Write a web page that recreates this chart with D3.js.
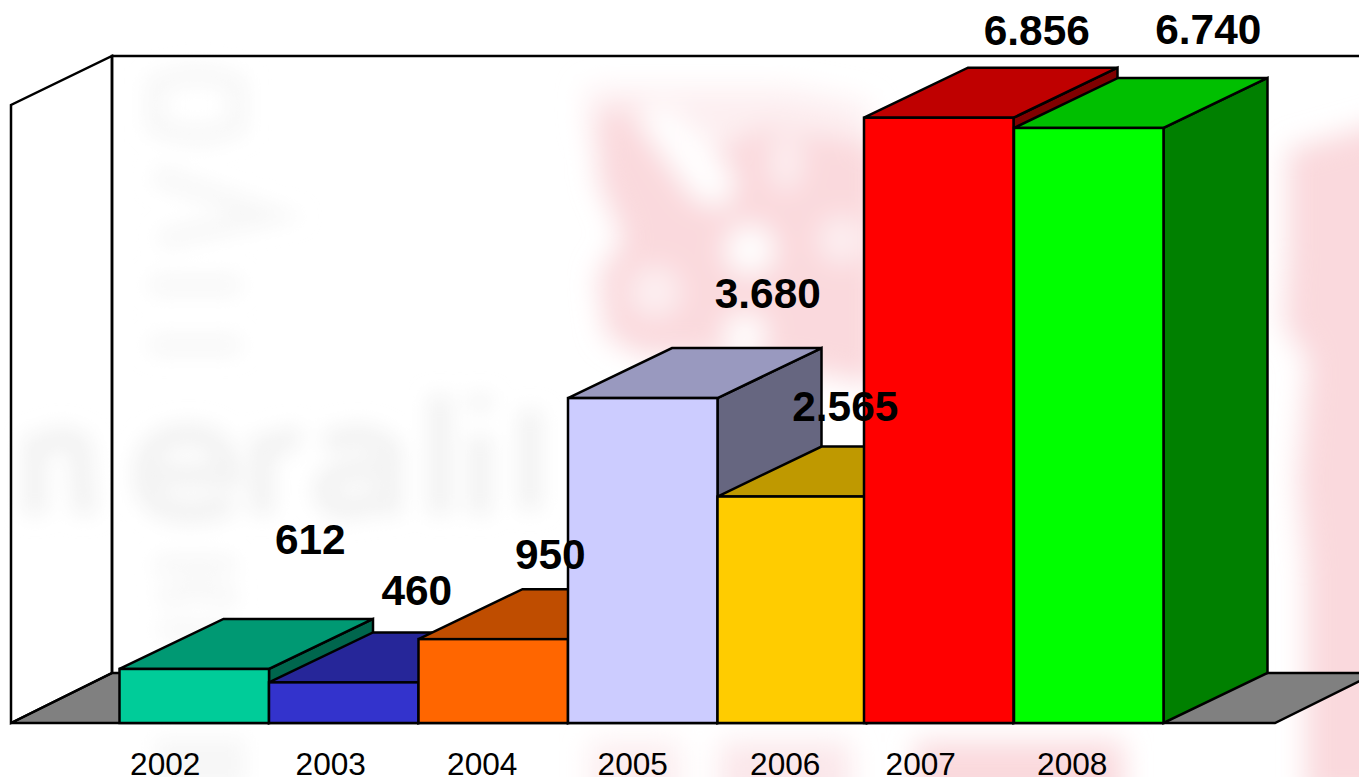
<!DOCTYPE html>
<html lang="en">
<head>
	<meta charset="UTF-8">
	<title>Generali 2002-2008</title>
	<style>
		html, body { margin: 0; padding: 0; background: #fff; overflow: hidden; }
		svg { display: block; }
		text { font-family: "Liberation Sans", Arial, sans-serif; fill: #000; }
		.value { font-size: 42.4px; font-weight: bold; text-anchor: middle; }
		.tick text { font-size: 31.6px; }
		.edge { stroke: #000; stroke-width: 2.5; stroke-linejoin: miter; }
	</style>
</head>
<body>
<svg id="chart" width="1359" height="777"></svg>
<script src="https://d3js.org/d3.v7.min.js"></script>
<script type="text/javascript">
	var years = ["2002", "2003", "2004", "2005", "2006", "2007", "2008"];
	var values = [612, 460, 950, 3680, 2565, 6856, 6740];
	var barColors = ["#00CC99", "#3333CC", "#FF6600", "#CCCCFF", "#FFCC00", "#FF0000", "#00FF00"];

	// hand placement, the original chart has these moved around by hand
	var barShift = [0, 0, 0, 0, 0, -3, -2.5];
	var labelDx = [116, 73, 57, 125, 53, 95, 117];
	var labelDy = [-115, -77, -70, -90, -76, -73, -84];
	var tickDx = [-29, -13, -11, -10, -7, -21, -19];

	var floorY = 723,
	    depthX = 104,
	    depthY = 50,
	    wallLeft = 11,
	    wallBack = 112,
	    floorRight = 1275;

	var x = d3.scaleBand().domain(years).range([119.5, 1166]);
	var y = d3.scaleLinear().domain([0, 7000]).range([floorY, 105]);
	var fmt = d3.formatLocale({ decimal: ",", thousands: ".", grouping: [3], currency: ["", ""] }).format(",d");

	var svg = d3.select("#chart");
	var defs = svg.append("defs");
	function blur(id, amount) {
		defs.append("filter").attr("id", id)
		    .attr("filterUnits", "userSpaceOnUse")
		    .attr("x", -50).attr("y", -50).attr("width", 1500).attr("height", 900)
		    .append("feGaussianBlur").attr("stdDeviation", amount);
	}
	blur("soft", 14);
	blur("softer", 10);

	// washed out logo behind the plot
	(function backdrop() {
		var pink = "#fad9dd",
		    pale = "#fdeff1",
		    grey = "#f3f3f3",
		    greyLight = "#f7f7f7";
		var back = svg.append("g");

		var red = back.append("g").attr("filter", "url(#soft)");
		red.append("path").attr("fill", pale)
		    .attr("d", "M586,88 L790,88 L870,104 L870,140 L590,140 Z");
		red.append("path").attr("fill", pink)
		    .attr("d", "M596,115 L640,105 L710,150 L770,125 L880,145 L880,385 L800,370 L700,355 L640,355 L606,335 L598,275 L624,240 L598,180 Z");
		red.append("path").attr("fill", "#fff")
		    .attr("d", "M632,112 L668,106 L735,175 L728,208 L695,200 Z");
		red.append("ellipse").attr("cx", 786).attr("cy", 162).attr("rx", 16).attr("ry", 30).attr("fill", pale);
		red.append("circle").attr("cx", 750).attr("cy", 250).attr("r", 25).attr("fill", "#fff");
		red.append("circle").attr("cx", 842).attr("cy", 240).attr("r", 24).attr("fill", pale);
		red.append("circle").attr("cx", 655).attr("cy", 292).attr("r", 26).attr("fill", pale);
		red.append("circle").attr("cx", 745).attr("cy", 335).attr("r", 22).attr("fill", "#fff");
		red.append("path").attr("fill", pink)
		    .attr("d", "M1288,150 L1400,118 L1400,800 L1306,800 L1306,570 L1298,480 L1308,360 L1284,325 L1288,250 Z");
		red.append("rect").attr("x", 915).attr("y", 742).attr("width", 208).attr("height", 70).attr("fill", pink);
		red.append("rect").attr("x", 720).attr("y", 742).attr("width", 130).attr("height", 70).attr("fill", "#fbe7ea");
		red.append("rect").attr("x", 590).attr("y", 742).attr("width", 90).attr("height", 70).attr("fill", "#fcedef");

		var gray = back.append("g").attr("filter", "url(#softer)");
		gray.append("path").attr("fill", "none").attr("stroke", grey).attr("stroke-width", 24)
		    .attr("d", "M35,515 L35,435 M35,450 Q60,430 80,445 L85,515"
		        + " M145,475 H230 Q225,435 190,435 Q145,435 145,475 Q145,512 190,512 Q215,512 232,500"
		        + " M262,515 V435 M262,460 Q275,435 300,440"
		        + " M325,445 Q365,425 390,450 V515 M390,470 Q320,465 325,495 Q335,520 390,495"
		        + " M440,395 V515 M480,435 V515 M480,395 V410 M530,410 V510");
		gray.append("path").attr("fill", "none").attr("stroke", greyLight).attr("stroke-width", 19)
		    .attr("d", "M155,85 Q200,65 238,85 L238,125 Q200,145 155,125 Z M155,175 L270,215 L160,240 M150,285 L240,285 M150,345 L240,345");
		gray.append("path").attr("fill", "none").attr("stroke", greyLight).attr("stroke-width", 19)
		    .attr("d", "M155,565 L235,565 M160,600 Q200,580 235,600 M160,630 L230,630");
		gray.append("rect").attr("x", 155).attr("y", 738).attr("width", 90).attr("height", 50).attr("fill", greyLight);
	})();

	// floor and walls
	var wallTop = y(7000) - 49;

	svg.append("polygon").attr("class", "edge").attr("fill", "#808080")
	    .attr("points", [[wallLeft, floorY], [wallBack, floorY - depthY], [floorRight + 101, floorY - depthY], [floorRight, floorY]].join(" "));
	svg.append("polygon").attr("class", "edge").attr("fill", "none")
	    .attr("points", [[wallLeft, floorY], [wallLeft, wallTop + 49], [wallBack, wallTop], [wallBack, floorY - depthY]].join(" "));
	svg.append("polyline").attr("class", "edge").attr("fill", "none")
	    .attr("points", [[wallBack, floorY - depthY], [wallBack, wallTop], [1380, wallTop]].join(" "));

	function shade(c, k) {
		var r = d3.rgb(c);
		return d3.rgb(r.r * k, r.g * k, r.b * k).formatHex();
	}

	var bar = svg.selectAll("g.bar")
	    .data(years)
	    .enter().append("g")
	    .attr("class", "bar");

	function left(d, i) { return x(d) + barShift[i]; }
	function right(d, i) { return left(d, i) + x.bandwidth(); }

	bar.append("polygon").attr("class", "edge")
	    .attr("fill", function(d, i) { return shade(barColors[i], 0.5); })
	    .attr("points", function(d, i) {
	    	var r = right(d, i), t = y(values[i]);
	    	return [[r, floorY], [r, t], [r + depthX, t - depthY], [r + depthX, floorY - depthY]].join(" ");
	    });

	bar.append("polygon").attr("class", "edge")
	    .attr("fill", function(d, i) { return shade(barColors[i], 0.75); })
	    .attr("points", function(d, i) {
	    	var l = left(d, i), r = right(d, i), t = y(values[i]);
	    	return [[l, t], [l + depthX, t - depthY], [r + depthX, t - depthY], [r, t]].join(" ");
	    });

	bar.append("rect").attr("class", "edge")
	    .attr("fill", function(d, i) { return barColors[i]; })
	    .attr("x", left)
	    .attr("y", function(d, i) { return y(values[i]); })
	    .attr("width", x.bandwidth())
	    .attr("height", function(d, i) { return floorY - y(values[i]); });

	// value labels sit on top of everything, as in the original
	svg.selectAll("text.value")
	    .data(values)
	    .enter().append("text")
	    .attr("class", "value")
	    .attr("x", function(d, i) { return x(years[i]) + x.bandwidth() / 2 + labelDx[i]; })
	    .attr("y", function(d, i) { return y(d) + labelDy[i]; })
	    .text(function(d) { return fmt(d); });

	var axis = svg.append("g")
	    .attr("transform", "translate(0," + floorY + ")")
	    .call(d3.axisBottom(x).tickSize(0));
	axis.select(".domain").remove();
	axis.selectAll(".tick text")
	    .attr("x", function(d, i) { return tickDx[i]; })
	    .attr("y", 52)
	    .attr("dy", 0)
	    .attr("font-family", null)
	    .attr("font-size", null);
</script>
</body>
</html>
